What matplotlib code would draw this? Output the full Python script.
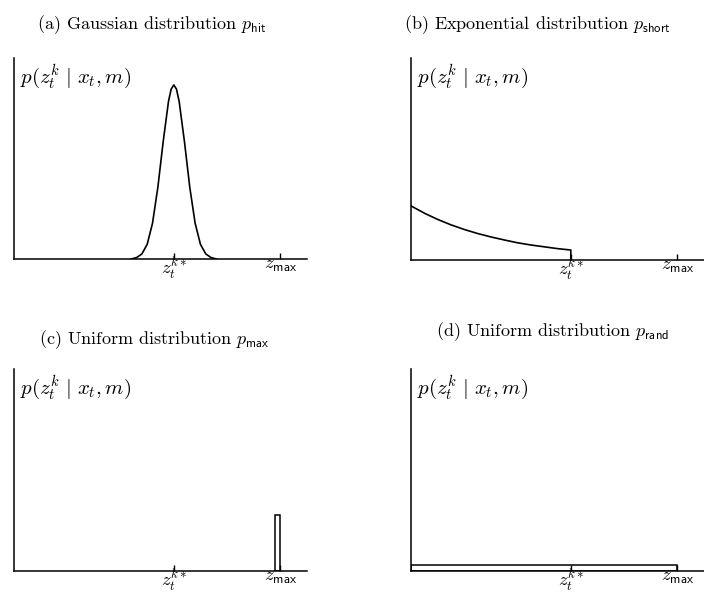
import matplotlib
matplotlib.use("Agg")
import matplotlib.pyplot as plt

plt.rcParams['mathtext.fontset'] = 'cm'
plt.rcParams['font.family'] = ['cmr10', 'DejaVu Serif']
plt.rcParams['axes.unicode_minus'] = False

# x measured in units of z_max, y as fraction of the axis height
z_star = 0.60
z_max = 1.0
x_end = 1.10

# (a) Gaussian p_hit
gauss_x = [0.44, 0.46, 0.48, 0.50, 0.52, 0.54, 0.56, 0.58, 0.59, 0.60, 0.61, 0.62,
           0.64, 0.66, 0.68, 0.70, 0.72, 0.74, 0.76]
gauss_y = [0.000, 0.007, 0.025, 0.073, 0.178, 0.356, 0.583, 0.784, 0.845, 0.866, 0.845, 0.784,
           0.583, 0.356, 0.178, 0.073, 0.025, 0.007, 0.000]

# (b) exponential p_short, cut at z*
exp_x = [0.00, 0.05, 0.10, 0.15, 0.20, 0.25, 0.30, 0.35, 0.40, 0.45, 0.50, 0.55, 0.60, 0.60]
exp_y = [0.266, 0.230, 0.199, 0.172, 0.149, 0.129, 0.112, 0.097, 0.083, 0.072, 0.063, 0.054, 0.047, 0.0]

# (c) narrow uniform p_max just below z_max
max_left = 0.98
max_width = 0.02
max_height = 0.277

# (d) uniform p_rand over [0, z_max]
rand_height = 0.03

titles = [r"(a) Gaussian distribution $p_{\mathsf{hit}}$",
          r"(b) Exponential distribution $p_{\mathsf{short}}$",
          r"(c) Uniform distribution $p_{\mathsf{max}}$",
          r"(d) Uniform distribution $p_{\mathsf{rand}}$"]
tick_labels = [r"$z_t^{k*}$", r"$z_{\mathsf{max}}$"]
ylabel = r"$p(z_t^k\ |\ x_t, m)$"

W, H = 704, 594
fig = plt.figure(figsize=(W / 100, H / 100), dpi=100)

# axes boxes in pixels: left, x-axis row, top
boxes = [(14, 259, 58), (411, 259.5, 58), (14, 571, 369), (411, 571, 369)]
title_pos = [(152, 25), (537, 25), (154, 340), (553, 332)]

axes = []
for (left, base, top), title, (tx, ty) in zip(boxes, titles, title_pos):
    ax = fig.add_axes([left / W, (H - base) / H, 293 / W, (base - top) / H])
    ax.set_xlim(0, x_end)
    ax.set_ylim(0, 1)
    for s in ['top', 'right']:
        ax.spines[s].set_visible(False)
    for s in ['left', 'bottom']:
        ax.spines[s].set_linewidth(1.1)
    ax.set_yticks([])
    ax.set_xticks([z_star, z_max])
    ax.set_xticklabels(tick_labels, fontsize=13.5)
    ax.tick_params(axis='x', direction='in', length=4, width=1, pad=-2)
    ax.text(0.02, 0.905, ylabel, fontsize=15, ha='left', va='center',
            transform=ax.transAxes)
    fig.text(tx / W, 1 - ty / H, title, fontsize=13, ha='center', va='center')
    axes.append(ax)

axes[0].plot(gauss_x, gauss_y, color='black', lw=1.2)
axes[1].plot(exp_x, exp_y, color='black', lw=1.2)
axes[2].bar(max_left, max_height, width=max_width, align='edge',
            facecolor='white', edgecolor='black', lw=1.1)
axes[3].bar(0, rand_height, width=z_max, align='edge',
            facecolor='white', edgecolor='black', lw=1.1)

fig.savefig("out.png", dpi=100)
